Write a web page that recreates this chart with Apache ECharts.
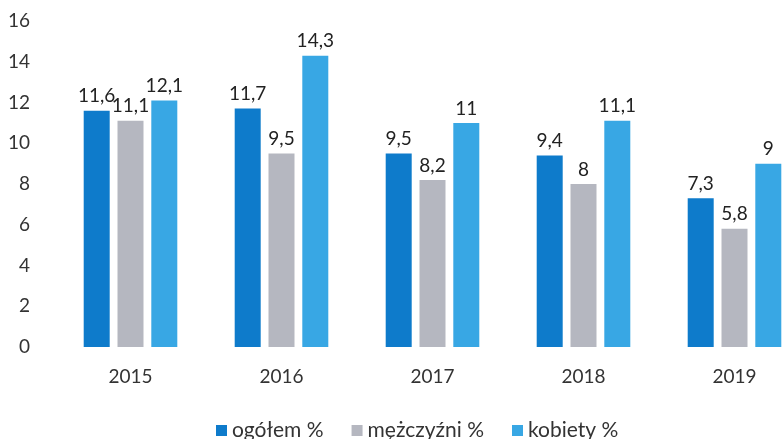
<!DOCTYPE html>
<html>
<head>
<meta charset="utf-8">
<script src="https://cdn.jsdelivr.net/npm/echarts@6/dist/echarts.min.js"></script>
<style>
  html, body { margin: 0; padding: 0; background: #fff; overflow: hidden; }
  #chart { width: 810px; height: 439px; }
</style>
</head>
<body>
<div id="chart"></div>
<script>
const years = ["2015", "2016", "2017", "2018", "2019"];
const ogolem = [11.6, 11.7, 9.5, 9.4, 7.3];
const mezczyzni = [11.1, 9.5, 8.2, 8, 5.8];
const kobiety = [12.1, 14.3, 11, 11.1, 9];
const yTicks = [0, 2, 4, 6, 8, 10, 12, 14, 16];

const font = "Lato, 'Open Sans', sans-serif";

// the original picture is cropped on the right, so the chart is wider than the window
const makeSeries = (name, data, color) => ({
  name: name,
  type: "bar",
  data: data,
  barWidth: 26,
  barGap: "30%",
  itemStyle: { color: color },
  label: {
    show: true,
    position: "top",
    distance: 5,
    color: "#222",
    fontSize: 19,
    fontFamily: font,
    formatter: (p) => String(p.value).replace(".", ","),
  },
});

const chart = echarts.init(document.getElementById("chart"));
chart.setOption({
  animation: false,
  grid: { left: 55, top: 21, right: 0, bottom: 92 },
  legend: {
    left: 211,
    top: 415,
    itemWidth: 11,
    itemHeight: 11,
    itemGap: 28,
    icon: "rect",
    textStyle: { fontSize: 21, color: "#333", fontFamily: font },
    data: ["ogółem %", "mężczyźni %", "kobiety %"],
  },
  xAxis: {
    type: "category",
    data: years,
    axisLine: { show: false },
    axisTick: { show: false },
    axisLabel: { fontSize: 19, color: "#333", fontFamily: font, margin: 20 },
  },
  yAxis: {
    type: "value",
    min: yTicks[0],
    max: yTicks[yTicks.length - 1],
    interval: 2,
    axisLine: { show: false },
    axisTick: { show: false },
    splitLine: { show: false },
    axisLabel: { fontSize: 19, color: "#333", fontFamily: font, margin: 25 },
  },
  series: [
    makeSeries("ogółem %", ogolem, "#0e7bcb"),
    makeSeries("mężczyźni %", mezczyzni, "#b5b7c0"),
    makeSeries("kobiety %", kobiety, "#38a7e4"),
  ],
});
</script>
</body>
</html>
